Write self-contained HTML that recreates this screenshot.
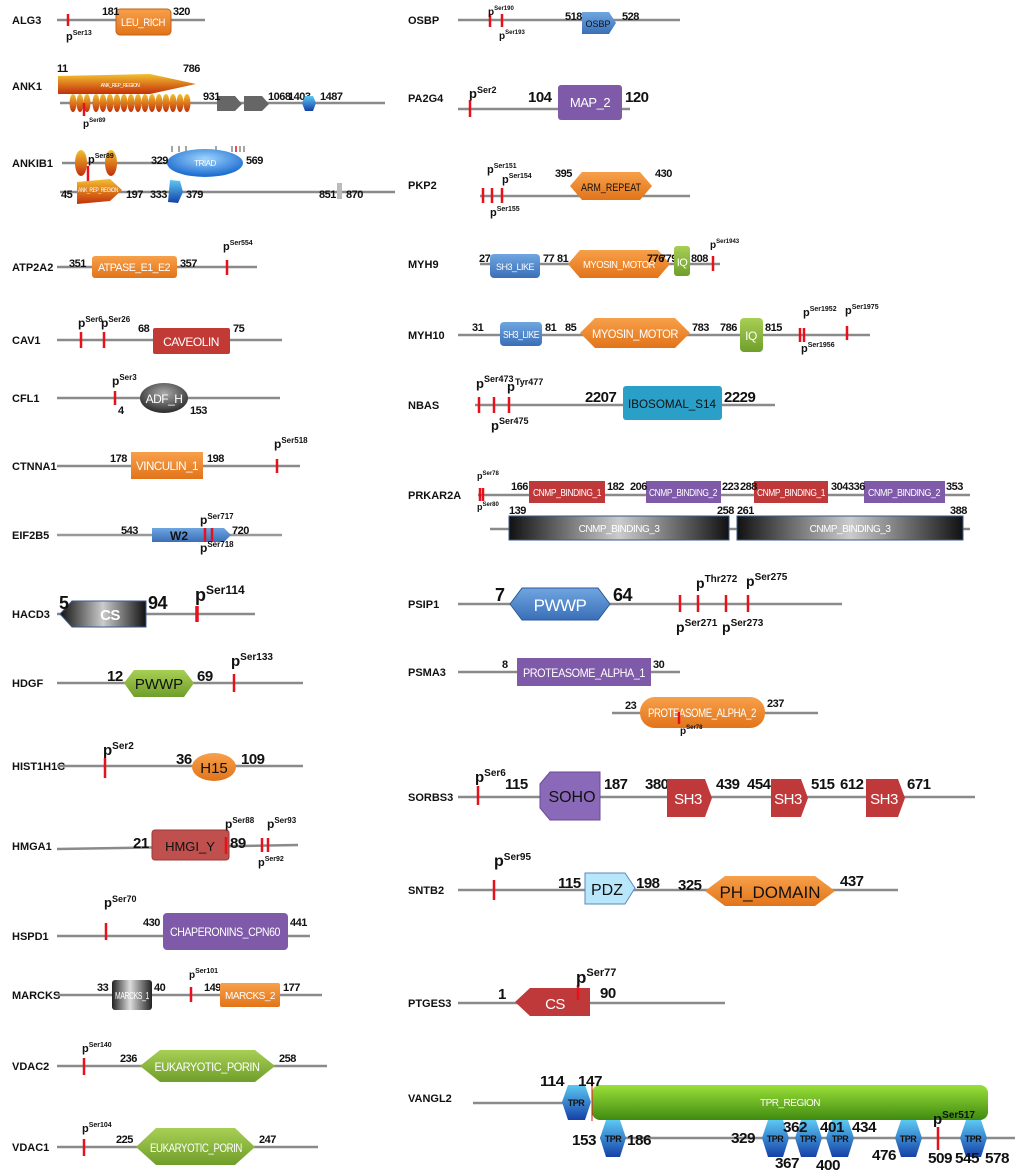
<!DOCTYPE html>
<html><head><meta charset="utf-8"><style>
body{margin:0;background:#fff;width:1020px;height:1176px;overflow:hidden}
svg{display:block}
text{font-family:"Liberation Sans",sans-serif;font-weight:bold;fill:#111}
.lb{font-size:11px}
.n{font-size:11px;letter-spacing:-0.5px}
.N{font-size:15px;letter-spacing:-0.5px}
.B{font-size:18px;letter-spacing:-0.5px}
.w{fill:#fff;font-weight:normal;text-anchor:middle;letter-spacing:-0.5px}
.ln{stroke:#8a8a8a;stroke-width:2.5}
.t{stroke:#e8101a;stroke-width:2.5}
</style></head><body>
<svg width="1020" height="1176" viewBox="0 0 1020 1176">
<defs>
<linearGradient id="or" x1="0" y1="0" x2="0" y2="1"><stop offset="0" stop-color="#f7a04a"/><stop offset="1" stop-color="#e2741a"/></linearGradient>
<linearGradient id="gr" x1="0" y1="0" x2="0" y2="1"><stop offset="0" stop-color="#a8cf55"/><stop offset="1" stop-color="#6f9e2a"/></linearGradient>
<linearGradient id="gr2" x1="0" y1="0" x2="0" y2="1"><stop offset="0" stop-color="#9be03a"/><stop offset="1" stop-color="#3f8a10"/></linearGradient>
<linearGradient id="bl" x1="0" y1="0" x2="0" y2="1"><stop offset="0" stop-color="#6fa6e0"/><stop offset="1" stop-color="#3a6fb8"/></linearGradient>
<linearGradient id="tpr" x1="0" y1="0" x2="0" y2="1"><stop offset="0" stop-color="#5cc8f2"/><stop offset="1" stop-color="#1540a8"/></linearGradient>
<linearGradient id="dk" x1="0" y1="0" x2="1" y2="0"><stop offset="0" stop-color="#111"/><stop offset="0.5" stop-color="#ccc"/><stop offset="1" stop-color="#111"/></linearGradient>
<linearGradient id="dk2" x1="0" y1="0" x2="1" y2="0"><stop offset="0" stop-color="#222"/><stop offset="0.45" stop-color="#ddd"/><stop offset="1" stop-color="#222"/></linearGradient>
<linearGradient id="ank" x1="0" y1="0" x2="0" y2="1"><stop offset="0" stop-color="#f3c030"/><stop offset="1" stop-color="#c2300a"/></linearGradient>
<radialGradient id="ell" cx="0.5" cy="0.35" r="0.6"><stop offset="0" stop-color="#9fd4ff"/><stop offset="1" stop-color="#1f6fd0"/></radialGradient>
<radialGradient id="adf" cx="0.5" cy="0.35" r="0.6"><stop offset="0" stop-color="#aaa"/><stop offset="1" stop-color="#333"/></radialGradient>
</defs>

<g class="lb">
<text x="12" y="24">ALG3</text><text x="12" y="90">ANK1</text><text x="12" y="167">ANKIB1</text>
<text x="12" y="271">ATP2A2</text><text x="12" y="344">CAV1</text><text x="12" y="402">CFL1</text>
<text x="12" y="470">CTNNA1</text><text x="12" y="539">EIF2B5</text><text x="12" y="618">HACD3</text>
<text x="12" y="687">HDGF</text><text x="12" y="770">HIST1H1C</text><text x="12" y="850">HMGA1</text>
<text x="12" y="940">HSPD1</text><text x="12" y="999">MARCKS</text><text x="12" y="1070">VDAC2</text>
<text x="12" y="1151">VDAC1</text>
<text x="408" y="24">OSBP</text><text x="408" y="102">PA2G4</text><text x="408" y="189">PKP2</text>
<text x="408" y="268">MYH9</text><text x="408" y="339">MYH10</text><text x="408" y="409">NBAS</text>
<text x="408" y="499">PRKAR2A</text><text x="408" y="608">PSIP1</text><text x="408" y="676">PSMA3</text>
<text x="408" y="801">SORBS3</text><text x="408" y="894">SNTB2</text><text x="408" y="1007">PTGES3</text>
<text x="408" y="1102">VANGL2</text>
</g>

<!-- ALG3 -->
<line class="ln" x1="57" y1="20" x2="205" y2="20"/><line class="t" x1="68" y1="14" x2="68" y2="26"/>
<rect x="116" y="9" width="55" height="26" rx="4" fill="url(#or)" stroke="#c0601a"/>
<text class="w" x="143" y="26" font-size="11" textLength="44" lengthAdjust="spacingAndGlyphs">LEU_RICH</text>
<text class="n" x="102" y="15">181</text><text class="n" x="173" y="15">320</text>
<text x="66" y="40" font-size="11">p<tspan dy="-5" font-size="7">Ser13</tspan></text>

<!-- ANK1 -->
<polygon points="58,76 150,74 196,84 150,94 58,94" fill="url(#ank)"/>
<text class="w" x="120" y="87" font-size="5">ANK_REP_REGION</text>
<text class="n" x="57" y="72">11</text><text class="n" x="183" y="72">786</text>
<line class="ln" x1="60" y1="103" x2="385" y2="103"/>
<g fill="url(#ank)">
<ellipse cx="73" cy="103" rx="3.5" ry="9"/><ellipse cx="80" cy="103" rx="3.5" ry="9"/><ellipse cx="87" cy="103" rx="3.5" ry="9"/>
<ellipse cx="96" cy="103" rx="3.5" ry="9"/><ellipse cx="103" cy="103" rx="3.5" ry="9"/><ellipse cx="110" cy="103" rx="3.5" ry="9"/><ellipse cx="117" cy="103" rx="3.5" ry="9"/><ellipse cx="124" cy="103" rx="3.5" ry="9"/><ellipse cx="131" cy="103" rx="3.5" ry="9"/><ellipse cx="138" cy="103" rx="3.5" ry="9"/><ellipse cx="145" cy="103" rx="3.5" ry="9"/><ellipse cx="152" cy="103" rx="3.5" ry="9"/><ellipse cx="159" cy="103" rx="3.5" ry="9"/><ellipse cx="166" cy="103" rx="3.5" ry="9"/><ellipse cx="173" cy="103" rx="3.5" ry="9"/><ellipse cx="180" cy="103" rx="3.5" ry="9"/><ellipse cx="187" cy="103" rx="3.5" ry="9"/>
</g>
<line class="t" x1="84" y1="103" x2="84" y2="116" stroke-width="1.5"/>
<text x="83" y="127" font-size="10">p<tspan dy="-5" font-size="6">Ser89</tspan></text>
<polygon points="217,96 235,96 242,104 235,111 217,111" fill="#666"/>
<polygon points="244,96 262,96 269,104 262,111 244,111" fill="#666"/>
<text class="n" x="203" y="100">931</text><text class="n" x="268" y="100">1068</text><text class="n" x="288" y="100">1403</text><text class="n" x="320" y="100">1487</text>
<polygon points="305,96 313,96 316,103 313,111 305,111 302,103" fill="url(#tpr)"/>

<!-- ANKIB1 -->
<line class="ln" x1="62" y1="163" x2="200" y2="163"/>
<ellipse cx="81" cy="163" rx="6" ry="13" fill="url(#ank)"/><ellipse cx="111" cy="163" rx="6" ry="13" fill="url(#ank)"/>
<text x="88" y="163" font-size="11">p<tspan dy="-5" font-size="7">Ser89</tspan></text>
<line class="t" x1="88" y1="166" x2="88" y2="185" stroke-width="1.5"/>
<g stroke="#888" stroke-width="1.5"><line x1="172" y1="146" x2="172" y2="152"/><line x1="179" y1="146" x2="179" y2="152"/><line x1="186" y1="146" x2="186" y2="152"/><line x1="216" y1="146" x2="216" y2="152"/><line x1="232" y1="146" x2="232" y2="152"/><line x1="240" y1="146" x2="240" y2="152"/><line x1="244" y1="146" x2="244" y2="152"/></g>
<line x1="236" y1="146" x2="236" y2="152" stroke="#e8101a" stroke-width="1.5"/>
<ellipse cx="205" cy="163" rx="38" ry="14" fill="url(#ell)"/>
<text class="w" x="205" y="166" font-size="8">TRIAD</text>
<text class="n" x="151" y="164">329</text><text class="n" x="246" y="164">569</text>
<line class="ln" x1="60" y1="192" x2="395" y2="192"/>
<polygon points="77,182 110,179 122,190 110,201 77,204" fill="url(#ank)"/>
<text class="w" x="98" y="192" font-size="6" textLength="40" lengthAdjust="spacingAndGlyphs">ANK_REP_REGION</text>
<text class="n" x="61" y="198">45</text><text class="n" x="126" y="198">197</text>
<polygon points="170,180 180,181 183,192 178,203 168,202" fill="url(#tpr)"/>
<text class="n" x="150" y="198">333</text><text class="n" x="186" y="198">379</text>
<rect x="337" y="183" width="5" height="16" fill="#bbb"/>
<text class="n" x="319" y="198">851</text><text class="n" x="346" y="198">870</text>

<!-- ATP2A2 -->
<line class="ln" x1="57" y1="267" x2="257" y2="267"/>
<rect x="92" y="256" width="85" height="22" rx="3" fill="url(#or)"/>
<text class="w" x="134" y="271" font-size="11" textLength="72" lengthAdjust="spacingAndGlyphs">ATPASE_E1_E2</text>
<text class="n" x="69" y="267">351</text><text class="n" x="180" y="267">357</text>
<line class="t" x1="227" y1="260" x2="227" y2="275"/>
<text x="223" y="250" font-size="11">p<tspan dy="-5" font-size="7">Ser554</tspan></text>

<!-- CAV1 -->
<line class="ln" x1="57" y1="340" x2="282" y2="340"/>
<line class="t" x1="81" y1="332" x2="81" y2="348"/><line class="t" x1="104" y1="332" x2="104" y2="348"/>
<text x="78" y="327" font-size="12">p<tspan dy="-5" font-size="8">Ser6</tspan></text>
<text x="101" y="327" font-size="12">p<tspan dy="-5" font-size="8">Ser26</tspan></text>
<rect x="153" y="328" width="77" height="26" rx="2" fill="#c23a36"/>
<text class="w" x="191" y="346" font-size="12">CAVEOLIN</text>
<text class="n" x="138" y="332" font-size="12">68</text><text class="n" x="233" y="332" font-size="12">75</text>

<!-- CFL1 -->
<line class="ln" x1="57" y1="398" x2="280" y2="398"/>
<line class="t" x1="115" y1="391" x2="115" y2="405"/>
<text x="112" y="385" font-size="12">p<tspan dy="-5" font-size="8">Ser3</tspan></text>
<ellipse cx="164" cy="398" rx="24" ry="15" fill="url(#adf)"/>
<text class="w" x="164" y="403" font-size="12">ADF_H</text>
<text class="n" x="118" y="414" font-size="12">4</text><text class="n" x="190" y="414" font-size="12">153</text>

<!-- CTNNA1 -->
<line class="ln" x1="57" y1="466" x2="300" y2="466"/>
<rect x="131" y="452" width="72" height="27" fill="url(#or)"/>
<text class="w" x="167" y="470" font-size="12" textLength="62" lengthAdjust="spacingAndGlyphs">VINCULIN_1</text>
<text class="n" x="110" y="462" font-size="12">178</text><text class="n" x="207" y="462" font-size="12">198</text>
<line class="t" x1="277" y1="459" x2="277" y2="473"/>
<text x="274" y="448" font-size="12">p<tspan dy="-5" font-size="8">Ser518</tspan></text>

<!-- EIF2B5 -->
<line class="ln" x1="57" y1="535" x2="282" y2="535" style="stroke:#999"/>
<polygon points="152,528 224,528 231,535 224,542 152,542" fill="url(#bl)"/>
<text x="170" y="540" font-size="12" fill="#111">W2</text>
<line class="t" x1="205" y1="528" x2="205" y2="542"/><line class="t" x1="212" y1="528" x2="212" y2="542"/>
<text class="n" x="121" y="534" font-size="12">543</text><text class="n" x="232" y="534" font-size="12">720</text>
<text x="200" y="524" font-size="12">p<tspan dy="-5" font-size="8">Ser717</tspan></text>
<text x="200" y="552" font-size="12">p<tspan dy="-5" font-size="8">Ser718</tspan></text>

<!-- HACD3 -->
<line class="ln" x1="57" y1="614" x2="255" y2="614"/>
<polygon points="72,601 146,601 146,627 72,627 60,614" fill="url(#dk)" stroke="#3a5a8a"/>
<text class="w" x="110" y="620" font-size="15" style="font-weight:bold">CS</text>
<text class="B" x="59" y="609">5</text><text class="B" x="148" y="609">94</text>
<line x1="197" y1="606" x2="197" y2="622" stroke="#e8101a" stroke-width="3.5"/>
<text x="195" y="601" font-size="18">p<tspan dy="-7" font-size="12">Ser114</tspan></text>

<!-- HDGF -->
<line class="ln" x1="57" y1="683" x2="303" y2="683"/>
<polygon points="124,683 134,670 184,670 194,683 184,697 134,697" fill="url(#gr)"/>
<text x="159" y="689" font-size="15" text-anchor="middle" style="font-weight:normal">PWWP</text>
<text class="N" x="107" y="681">12</text><text class="N" x="197" y="681">69</text>
<line class="t" x1="234" y1="674" x2="234" y2="692"/>
<text x="231" y="666" font-size="15">p<tspan dy="-6" font-size="10">Ser133</tspan></text>

<!-- HIST1H1C -->
<line class="ln" x1="57" y1="766" x2="303" y2="766"/>
<line class="t" x1="105" y1="758" x2="105" y2="778"/>
<text x="103" y="755" font-size="15">p<tspan dy="-6" font-size="10">Ser2</tspan></text>
<ellipse cx="214" cy="767" rx="22" ry="14" fill="url(#or)"/>
<text x="214" y="773" font-size="15" text-anchor="middle" style="font-weight:normal">H15</text>
<text class="N" x="176" y="764">36</text><text class="N" x="241" y="764">109</text>

<!-- HMGA1 -->
<line class="ln" x1="57" y1="849" x2="298" y2="845"/>
<rect x="152" y="830" width="77" height="30" rx="3" fill="#c0504d" stroke="#9a3a38"/>
<text x="190" y="851" font-size="13" text-anchor="middle" style="font-weight:normal">HMGI_Y</text>
<line class="t" x1="226" y1="837" x2="226" y2="854"/>
<text class="N" x="133" y="848" font-size="13">21</text><text class="N" x="230" y="848" font-size="13">89</text>
<line class="t" x1="262" y1="838" x2="262" y2="852"/><line class="t" x1="268" y1="838" x2="268" y2="852"/>
<text x="225" y="828" font-size="12">p<tspan dy="-5" font-size="8">Ser88</tspan></text>
<text x="267" y="828" font-size="12">p<tspan dy="-5" font-size="8">Ser93</tspan></text>
<text x="258" y="866" font-size="11">p<tspan dy="-5" font-size="7">Ser92</tspan></text>

<!-- HSPD1 -->
<line class="ln" x1="57" y1="936" x2="310" y2="936"/>
<line class="t" x1="106" y1="923" x2="106" y2="940"/>
<text x="104" y="907" font-size="13">p<tspan dy="-5" font-size="9">Ser70</tspan></text>
<rect x="163" y="913" width="125" height="37" rx="4" fill="#7e5aa8"/>
<text class="w" x="225" y="936" font-size="12" textLength="110" lengthAdjust="spacingAndGlyphs">CHAPERONINS_CPN60</text>
<text class="n" x="143" y="926" font-size="12">430</text><text class="n" x="290" y="926" font-size="12">441</text>

<!-- MARCKS -->
<line class="ln" x1="57" y1="995" x2="322" y2="995"/>
<rect x="112" y="980" width="40" height="30" rx="3" fill="url(#dk2)"/>
<text class="w" x="132" y="999" font-size="10" textLength="34" lengthAdjust="spacingAndGlyphs">MARCKS_1</text>
<text class="n" x="97" y="991">33</text><text class="n" x="154" y="991">40</text>
<line class="t" x1="191" y1="987" x2="191" y2="1002"/>
<text x="189" y="978" font-size="10">p<tspan dy="-5" font-size="7">Ser101</tspan></text>
<text class="n" x="204" y="991">149</text>
<rect x="220" y="983" width="60" height="24" rx="2" fill="url(#or)"/>
<text class="w" x="250" y="999" font-size="10" textLength="50" lengthAdjust="spacingAndGlyphs">MARCKS_2</text>
<text class="n" x="283" y="991">177</text>

<!-- VDAC2 -->
<line class="ln" x1="57" y1="1066" x2="327" y2="1066"/>
<line class="t" x1="84" y1="1058" x2="84" y2="1075"/>
<text x="82" y="1052" font-size="11">p<tspan dy="-5" font-size="7">Ser140</tspan></text>
<polygon points="140,1066 160,1050 255,1050 275,1066 255,1082 160,1082" fill="url(#gr)"/>
<text class="w" x="207" y="1071" font-size="12" textLength="105" lengthAdjust="spacingAndGlyphs">EUKARYOTIC_PORIN</text>
<text class="n" x="120" y="1062" font-size="12">236</text><text class="n" x="279" y="1062" font-size="12">258</text>

<!-- VDAC1 -->
<line class="ln" x1="57" y1="1147" x2="318" y2="1147"/>
<line class="t" x1="84" y1="1139" x2="84" y2="1156"/>
<text x="82" y="1132" font-size="11">p<tspan dy="-5" font-size="7">Ser104</tspan></text>
<polygon points="136,1147 156,1128 235,1128 255,1147 235,1165 156,1165" fill="url(#gr)"/>
<text class="w" x="196" y="1152" font-size="12" textLength="92" lengthAdjust="spacingAndGlyphs">EUKARYOTIC_PORIN</text>
<text class="n" x="116" y="1143" font-size="12">225</text><text class="n" x="259" y="1143" font-size="12">247</text>

<!-- OSBP -->
<line class="ln" x1="458" y1="20" x2="680" y2="20"/>
<line class="t" x1="490" y1="14" x2="490" y2="27"/><line class="t" x1="502" y1="14" x2="502" y2="27"/>
<text x="488" y="15" font-size="10">p<tspan dy="-5" font-size="6">Ser190</tspan></text>
<text x="499" y="39" font-size="10">p<tspan dy="-5" font-size="6">Ser193</tspan></text>
<polygon points="582,12 609,12 616,23 609,34 582,34" fill="url(#bl)"/>
<text x="598" y="27" font-size="9" text-anchor="middle" style="font-weight:normal">OSBP</text>
<text class="n" x="565" y="20">518</text><text class="n" x="622" y="20">528</text>

<!-- PA2G4 -->
<line class="ln" x1="458" y1="109" x2="630" y2="109"/>
<line class="t" x1="470" y1="100" x2="470" y2="117"/>
<text x="469" y="98" font-size="13">p<tspan dy="-5" font-size="9">Ser2</tspan></text>
<rect x="558" y="85" width="64" height="35" rx="3" fill="#7e5aa8"/>
<text class="w" x="590" y="107" font-size="13">MAP_2</text>
<text class="N" x="528" y="102" font-size="14">104</text><text class="N" x="625" y="102" font-size="14">120</text>

<!-- PKP2 -->
<line class="ln" x1="480" y1="196" x2="690" y2="196"/>
<line class="t" x1="483" y1="188" x2="483" y2="203"/><line class="t" x1="492" y1="188" x2="492" y2="203"/><line class="t" x1="502" y1="188" x2="502" y2="203"/>
<text x="487" y="173" font-size="11">p<tspan dy="-5" font-size="7">Ser151</tspan></text>
<text x="502" y="183" font-size="11">p<tspan dy="-5" font-size="7">Ser154</tspan></text>
<text x="490" y="216" font-size="11">p<tspan dy="-5" font-size="7">Ser155</tspan></text>
<polygon points="570,186 582,172 640,172 652,186 640,200 582,200" fill="url(#or)"/>
<text x="611" y="191" font-size="11" text-anchor="middle" style="font-weight:normal" textLength="60" lengthAdjust="spacingAndGlyphs">ARM_REPEAT</text>
<text class="n" x="555" y="177" font-size="12">395</text><text class="n" x="655" y="177" font-size="12">430</text>

<!-- MYH9 -->
<line class="ln" x1="480" y1="264" x2="720" y2="264"/>
<rect x="490" y="254" width="50" height="24" rx="4" fill="url(#bl)"/>
<text class="w" x="515" y="270" font-size="9" textLength="38" lengthAdjust="spacingAndGlyphs">SH3_LIKE</text>
<text class="n" x="479" y="262">27</text><text class="n" x="543" y="262">77</text><text class="n" x="557" y="262">81</text>
<polygon points="568,264 580,250 658,250 670,264 658,278 580,278" fill="url(#or)"/>
<text class="w" x="619" y="268" font-size="10" textLength="72" lengthAdjust="spacingAndGlyphs">MYOSIN_MOTOR</text>
<text class="n" x="647" y="262" font-size="10">776</text><text class="n" x="660" y="262" font-size="10">779</text>
<rect x="674" y="246" width="16" height="30" rx="3" fill="url(#gr)"/>
<text class="w" x="682" y="266" font-size="11">IQ</text>
<text class="n" x="691" y="262">808</text>
<line class="t" x1="713" y1="256" x2="713" y2="271"/>
<text x="710" y="248" font-size="10">p<tspan dy="-5" font-size="6">Ser1943</tspan></text>

<!-- MYH10 -->
<line class="ln" x1="458" y1="335" x2="870" y2="335"/>
<rect x="500" y="322" width="42" height="24" rx="4" fill="url(#bl)"/>
<text class="w" x="521" y="338" font-size="10" textLength="36" lengthAdjust="spacingAndGlyphs">SH3_LIKE</text>
<text class="n" x="472" y="331" font-size="12">31</text><text class="n" x="545" y="331" font-size="12">81</text><text class="n" x="565" y="331" font-size="12">85</text>
<polygon points="580,333 595,318 675,318 690,333 675,348 595,348" fill="url(#or)"/>
<text class="w" x="635" y="338" font-size="12" textLength="86" lengthAdjust="spacingAndGlyphs">MYOSIN_MOTOR</text>
<text class="n" x="692" y="331" font-size="12">783</text><text class="n" x="720" y="331" font-size="12">786</text>
<rect x="740" y="318" width="23" height="34" rx="4" fill="url(#gr)"/>
<text class="w" x="751" y="340" font-size="12">IQ</text>
<text class="n" x="765" y="331" font-size="12">815</text>
<line class="t" x1="800" y1="328" x2="800" y2="342"/><line class="t" x1="804" y1="328" x2="804" y2="342"/>
<text x="803" y="316" font-size="11">p<tspan dy="-5" font-size="7">Ser1952</tspan></text>
<text x="801" y="352" font-size="11">p<tspan dy="-5" font-size="7">Ser1956</tspan></text>
<line class="t" x1="847" y1="326" x2="847" y2="340"/>
<text x="845" y="314" font-size="11">p<tspan dy="-5" font-size="7">Ser1975</tspan></text>

<!-- NBAS -->
<line class="ln" x1="475" y1="405" x2="775" y2="405"/>
<line class="t" x1="479" y1="397" x2="479" y2="413"/><line class="t" x1="494" y1="397" x2="494" y2="413"/><line class="t" x1="509" y1="397" x2="509" y2="413"/>
<text x="476" y="388" font-size="13">p<tspan dy="-6" font-size="9">Ser473</tspan></text>
<text x="507" y="391" font-size="13">p<tspan dy="-6" font-size="9">Tyr477</tspan></text>
<text x="491" y="430" font-size="13">p<tspan dy="-6" font-size="9">Ser475</tspan></text>
<rect x="623" y="386" width="99" height="34" rx="3" fill="#2aa0c8"/>
<text x="672" y="408" font-size="12" text-anchor="middle" style="font-weight:normal" textLength="88" lengthAdjust="spacingAndGlyphs">IBOSOMAL_S14</text>
<text class="N" x="585" y="402" font-size="14">2207</text><text class="N" x="724" y="402" font-size="14">2229</text>

<!-- PRKAR2A -->
<line class="ln" x1="478" y1="495" x2="970" y2="495"/>
<line class="t" x1="480" y1="488" x2="480" y2="501" stroke-width="1.5"/><line class="t" x1="483" y1="488" x2="483" y2="501" stroke-width="1.5"/>
<text x="477" y="479" font-size="9">p<tspan dy="-4" font-size="6">Ser78</tspan></text>
<text x="477" y="510" font-size="9">p<tspan dy="-4" font-size="6">Ser80</tspan></text>
<rect x="529" y="481" width="76" height="22" fill="#c0393a"/><text class="w" x="567" y="496" font-size="10" textLength="68" lengthAdjust="spacingAndGlyphs">CNMP_BINDING_1</text>
<rect x="646" y="481" width="75" height="22" fill="#7e5aa8"/><text class="w" x="683" y="496" font-size="10" textLength="68" lengthAdjust="spacingAndGlyphs">CNMP_BINDING_2</text>
<rect x="754" y="481" width="74" height="22" fill="#c0393a"/><text class="w" x="791" y="496" font-size="10" textLength="68" lengthAdjust="spacingAndGlyphs">CNMP_BINDING_1</text>
<rect x="864" y="481" width="81" height="22" fill="#7e5aa8"/><text class="w" x="904" y="496" font-size="10" textLength="72" lengthAdjust="spacingAndGlyphs">CNMP_BINDING_2</text>
<g class="n" font-size="10"><text x="511" y="490">166</text><text x="607" y="490">182</text><text x="630" y="490">206</text><text x="722" y="490">223</text><text x="740" y="490">288</text><text x="831" y="490">304</text><text x="848" y="490">336</text><text x="946" y="490">353</text>
<text x="509" y="514">139</text><text x="717" y="514">258</text><text x="737" y="514">261</text><text x="950" y="514">388</text></g>
<line class="ln" x1="490" y1="529" x2="970" y2="529"/>
<rect x="509" y="516" width="220" height="24" fill="url(#dk)" stroke="#3a5a8a"/><text class="w" x="619" y="532" font-size="10">CNMP_BINDING_3</text>
<rect x="737" y="516" width="226" height="24" fill="url(#dk)" stroke="#3a5a8a"/><text class="w" x="850" y="532" font-size="10">CNMP_BINDING_3</text>

<!-- PSIP1 -->
<line class="ln" x1="458" y1="604" x2="842" y2="604"/>
<polygon points="510,604 522,588 598,588 610,604 598,620 522,620" fill="url(#bl)" stroke="#2c5a9a"/>
<text class="w" x="560" y="611" font-size="17">PWWP</text>
<text class="B" x="495" y="601">7</text><text class="B" x="613" y="601" font-size="16">64</text>
<line class="t" x1="680" y1="595" x2="680" y2="612" stroke-width="3"/><line class="t" x1="698" y1="595" x2="698" y2="612" stroke-width="3"/>
<line class="t" x1="726" y1="595" x2="726" y2="612" stroke-width="3"/><line class="t" x1="748" y1="595" x2="748" y2="612" stroke-width="3"/>
<text x="696" y="588" font-size="14">p<tspan dy="-6" font-size="10">Thr272</tspan></text>
<text x="746" y="586" font-size="14">p<tspan dy="-6" font-size="10">Ser275</tspan></text>
<text x="676" y="632" font-size="14">p<tspan dy="-6" font-size="10">Ser271</tspan></text>
<text x="722" y="632" font-size="14">p<tspan dy="-6" font-size="10">Ser273</tspan></text>

<!-- PSMA3 -->
<line class="ln" x1="458" y1="672" x2="680" y2="672"/>
<rect x="517" y="658" width="134" height="28" fill="#7e5aa8"/>
<text class="w" x="584" y="677" font-size="12" textLength="122" lengthAdjust="spacingAndGlyphs">PROTEASOME_ALPHA_1</text>
<text class="n" x="502" y="668">8</text><text class="n" x="653" y="668">30</text>
<line class="ln" x1="612" y1="713" x2="818" y2="713"/>
<rect x="640" y="697" width="125" height="31" rx="15" fill="url(#or)"/>
<text class="w" x="702" y="717" font-size="12" textLength="108" lengthAdjust="spacingAndGlyphs">PROTEASOME_ALPHA_2</text>
<text class="n" x="625" y="709">23</text><text class="n" x="767" y="707">237</text>
<line class="t" x1="679" y1="712" x2="679" y2="724"/>
<text x="680" y="734" font-size="10">p<tspan dy="-5" font-size="6">Ser78</tspan></text>

<!-- SORBS3 -->
<line class="ln" x1="458" y1="797" x2="975" y2="797"/>
<line class="t" x1="478" y1="786" x2="478" y2="805" stroke-width="3"/>
<text x="475" y="782" font-size="15">p<tspan dy="-6" font-size="10">Ser6</tspan></text>
<polygon points="540,784 550,772 600,772 600,820 550,820 540,808" fill="#8a6ab8" stroke="#6a4a98"/>
<text x="572" y="802" font-size="16" text-anchor="middle" style="font-weight:normal">SOHO</text>
<g class="N" font-size="16"><text x="505" y="789">115</text><text x="604" y="789">187</text><text x="645" y="789">380</text><text x="716" y="789">439</text><text x="747" y="789">454</text><text x="811" y="789">515</text><text x="840" y="789">612</text><text x="907" y="789">671</text></g>
<polygon points="667,779 705,779 712,798 705,817 667,817" fill="#c0393a"/>
<text class="w" x="688" y="804" font-size="15">SH3</text>
<polygon points="771,779 801,779 808,798 801,817 771,817" fill="#c0393a"/>
<text class="w" x="788" y="804" font-size="15">SH3</text>
<polygon points="866,779 898,779 905,798 898,817 866,817" fill="#c0393a"/>
<text class="w" x="884" y="804" font-size="15">SH3</text>

<!-- SNTB2 -->
<line class="ln" x1="458" y1="890" x2="898" y2="890"/>
<line class="t" x1="494" y1="880" x2="494" y2="900" stroke-width="3"/>
<text x="494" y="866" font-size="16">p<tspan dy="-6" font-size="10">Ser95</tspan></text>
<polygon points="585,873 625,873 635,888 625,904 585,904" fill="#b8e6fa" stroke="#5a8ab8"/>
<text x="607" y="895" font-size="16" text-anchor="middle" style="font-weight:normal">PDZ</text>
<polygon points="705,891 725,876 815,876 835,891 815,906 725,906" fill="url(#or)"/>
<text x="770" y="898" font-size="17" text-anchor="middle" style="font-weight:normal">PH_DOMAIN</text>
<g class="N" font-size="17"><text x="558" y="888">115</text><text x="636" y="888">198</text><text x="678" y="890">325</text><text x="840" y="886">437</text></g>

<!-- PTGES3 -->
<line class="ln" x1="458" y1="1003" x2="725" y2="1003"/>
<polygon points="530,988 590,988 590,1016 530,1016 515,1002" fill="#c0393a"/>
<text class="w" x="555" y="1009" font-size="15">CS</text>
<text class="N" x="498" y="999" font-size="16">1</text><text class="N" x="600" y="998" font-size="16">90</text>
<line class="t" x1="578" y1="985" x2="578" y2="1000" stroke-width="3"/>
<text x="576" y="983" font-size="17">p<tspan dy="-7" font-size="11">Ser77</tspan></text>

<!-- VANGL2 -->
<line class="ln" x1="473" y1="1103" x2="565" y2="1103"/>
<line class="ln" x1="600" y1="1138" x2="1015" y2="1138"/>
<rect x="592" y="1085" width="396" height="35" rx="8" fill="url(#gr2)"/>
<text class="w" x="790" y="1106" font-size="10">TPR_REGION</text>
<line x1="592" y1="1084" x2="592" y2="1121" stroke="#e8101a" stroke-width="1"/>
<g fill="url(#tpr)">
<polygon points="562,1102 568,1085 585,1085 591,1102 585,1120 568,1120"/>
<polygon points="600,1138 606,1120 620,1120 626,1138 620,1157 606,1157"/>
<polygon points="762,1138 768,1120 783,1120 789,1138 783,1157 768,1157"/>
<polygon points="795,1138 801,1120 816,1120 822,1138 816,1157 801,1157"/>
<polygon points="826,1138 832,1120 848,1120 854,1138 848,1157 832,1157"/>
<polygon points="895,1138 901,1120 916,1120 922,1138 916,1157 901,1157"/>
<polygon points="960,1138 966,1120 981,1120 987,1138 981,1157 966,1157"/>
</g>
<g class="w" font-size="9"><text x="576" y="1106">TPR</text><text x="613" y="1142">TPR</text><text x="775" y="1142">TPR</text><text x="808" y="1142">TPR</text><text x="840" y="1142">TPR</text><text x="908" y="1142">TPR</text><text x="973" y="1142">TPR</text></g>
<g class="N" font-size="16"><text x="540" y="1086" textLength="24" lengthAdjust="spacingAndGlyphs">114</text><text x="578" y="1086" textLength="24" lengthAdjust="spacingAndGlyphs">147</text><text x="572" y="1145" textLength="24" lengthAdjust="spacingAndGlyphs">153</text><text x="627" y="1145" textLength="24" lengthAdjust="spacingAndGlyphs">186</text><text x="731" y="1143" textLength="24" lengthAdjust="spacingAndGlyphs">329</text><text x="783" y="1132" textLength="24" lengthAdjust="spacingAndGlyphs">362</text><text x="820" y="1132" textLength="24" lengthAdjust="spacingAndGlyphs">401</text><text x="852" y="1132" textLength="24" lengthAdjust="spacingAndGlyphs">434</text><text x="775" y="1168" textLength="24" lengthAdjust="spacingAndGlyphs">367</text><text x="816" y="1170" textLength="24" lengthAdjust="spacingAndGlyphs">400</text><text x="872" y="1160" textLength="24" lengthAdjust="spacingAndGlyphs">476</text><text x="928" y="1163" textLength="24" lengthAdjust="spacingAndGlyphs">509</text><text x="955" y="1163" textLength="24" lengthAdjust="spacingAndGlyphs">545</text><text x="985" y="1163" textLength="24" lengthAdjust="spacingAndGlyphs">578</text></g>
<line class="t" x1="938" y1="1127" x2="938" y2="1150" stroke-width="2.5"/>
<text x="933" y="1124" font-size="15">p<tspan dy="-6" font-size="10">Ser517</tspan></text>
</svg>
</body></html>
